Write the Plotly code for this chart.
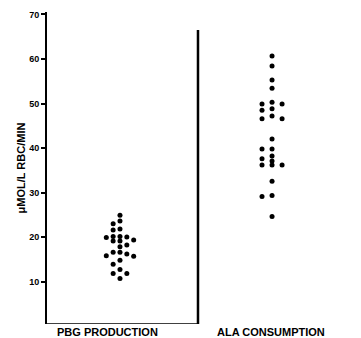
import plotly.graph_objects as go

# ---- data ----
categories = ["PBG PRODUCTION", "ALA CONSUMPTION"]
pbg_values = [24.9, 23.6, 23.0, 21.8, 21.6, 20.1, 20.1, 20.0, 19.9, 19.3, 19.1, 19.1,
              18.2, 17.8, 16.6, 16.6, 16.2, 15.8, 15.7, 14.8, 13.9, 12.7, 11.8, 11.8, 10.7]
ala_values = [60.7, 58.4, 55.3, 53.4, 50.3, 49.9, 49.9, 48.8, 48.5, 47.2, 46.6, 46.6,
              42.0, 39.8, 39.8, 38.2, 37.6, 37.1, 36.2, 36.2, 36.2, 32.5, 29.3, 29.1, 24.6]
y_ticks = [10, 20, 30, 40, 50, 60, 70]
y_title = "\u03bcMOL/L RBC/MIN"


def swarm(vals, gap, width, order=(0, -1, 1, -2, 2, -3, 3)):
    """Deterministic dot-plot layout: each value takes the first free slot."""
    placed = []
    offs = []
    for v in vals:
        for s in order:
            if all(abs(v - pv) >= gap - 1e-9 for ps, pv in placed if ps == s):
                placed.append((s, v))
                offs.append(s * width)
                break
    return offs


groups = [pbg_values, ala_values]
slot_w = [0.045, 0.066]
gaps = [0.95, 0.9]
fig = go.Figure()
for i, vals in enumerate(groups):
    offs = swarm(vals, gaps[i], slot_w[i])
    fig.add_trace(go.Scatter(
        x=[i + o for o in offs], y=vals, mode="markers",
        marker=dict(color="black", size=5, line=dict(width=0)),
        showlegend=False, hoverinfo="skip"))

divider = 0.513
fig.add_shape(type="line", x0=divider, x1=divider, y0=0.45, y1=66.5,
              xref="x", yref="y", line=dict(color="black", width=2.5))
fig.add_shape(type="line", x0=-0.48, x1=divider, y0=0.45, y1=0.45,
              xref="x", yref="y", line=dict(color="black", width=1.5))

label_x = [-0.08, 0.99]
for cx, name in zip(label_x, categories):
    fig.add_annotation(x=cx, y=-0.027, xref="x", yref="paper", yanchor="middle",
                       text=name, showarrow=False,
                       font=dict(family="Arial, Liberation Sans", size=11, color="black", weight="bold"))

fig.update_layout(
    width=361, height=338,
    margin=dict(l=47, r=0, t=12, b=14),
    paper_bgcolor="white", plot_bgcolor="white",
    xaxis=dict(range=[-0.48, 1.585], visible=False, fixedrange=True),
    yaxis=dict(range=[0.45, 70.56], tickvals=y_ticks, ticks="outside", ticklen=4,
               tickwidth=1.5, tickcolor="black", showline=True, linewidth=2,
               linecolor="black", showgrid=False, zeroline=False, automargin=False,
               tickfont=dict(family="Arial, Liberation Sans", size=9, color="black", weight="bold"),
               title=dict(text=y_title, standoff=1,
                          font=dict(family="Arial, Liberation Sans", size=11, color="black", weight="bold"))),
)

fig.write_html("out.html", config={"displayModeBar": False},
               post_script="document.body.style.margin='0';document.body.style.overflow='hidden';")
